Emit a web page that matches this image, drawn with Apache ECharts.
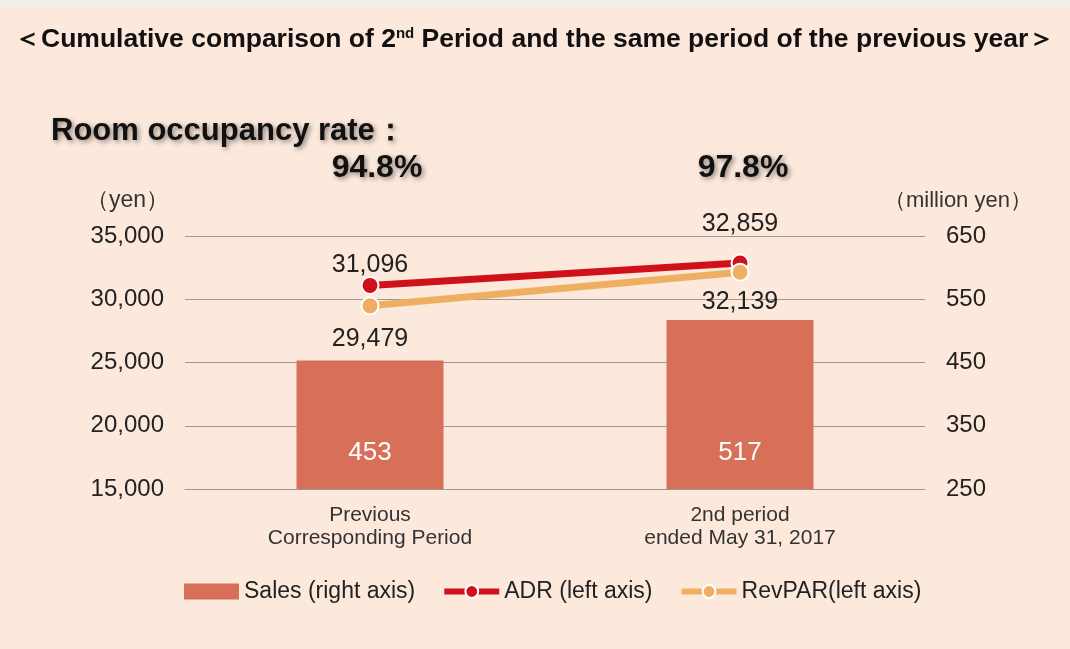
<!DOCTYPE html>
<html>
<head>
<meta charset="utf-8">
<script src="https://cdn.jsdelivr.net/npm/echarts@6/dist/echarts.min.js"></script>
<style>
  html, body { margin: 0; padding: 0; background: #fde9dc; }
  #main { width: 1070px; height: 649px; }
</style>
</head>
<body>
<div id="main"></div>
<script>
// categories and values
const periods = ['Previous\nCorresponding Period', '2nd period\nended May 31, 2017']
const occupancy = ['94.8%', '97.8%']
const sales = [453, 517]
const adr = [31096, 32859]
const revpar = [29479, 32139]

const font = 'Arial, Liberation Sans, sans-serif'
const textColor = '#222'

let myChart = echarts.init(document.getElementById('main'))

// shadowed headline texts
const shadow = {
  textShadowColor: 'rgba(0,0,0,0.45)',
  textShadowBlur: 5,
  textShadowOffsetX: 2,
  textShadowOffsetY: 2
}

myChart.setOption({
  backgroundColor: '#fde9dc',
  textStyle: { fontFamily: font },
  title: [
    {
      text: '{t|＜Cumulative comparison of 2}{s|nd}{t| Period and the same period of the previous year＞}',
      left: 9,
      top: 21,
      textStyle: {
        rich: {
          t: { fontFamily: font, fontWeight: 'bold', fontSize: 26.5, color: '#111' },
          s: { fontFamily: font, fontWeight: 'bold', fontSize: 15, color: '#111', verticalAlign: 'top', padding: [0, 0, 12, 0] }
        }
      }
    },
    {
      text: 'Room occupancy rate：',
      left: 46,
      top: 111,
      textStyle: Object.assign({ fontFamily: font, fontWeight: 'bold', fontSize: 31, color: '#111' }, shadow)
    },
    {
      text: occupancy[0],
      left: 372,
      top: 147,
      textAlign: 'center',
      textStyle: Object.assign({ fontFamily: font, fontWeight: 'bold', fontSize: 32, color: '#111' }, shadow)
    },
    {
      text: occupancy[1],
      left: 738,
      top: 147,
      textAlign: 'center',
      textStyle: Object.assign({ fontFamily: font, fontWeight: 'bold', fontSize: 32, color: '#111' }, shadow)
    }
  ],
  graphic: [
    // pale strip along the top edge
    { type: 'rect', left: 0, top: 0, shape: { width: 1070, height: 7 }, style: { fill: '#f1efec' } }
  ],
  legend: {
    left: 179,
    top: 575,
    itemWidth: 55,
    itemHeight: 16,
    itemGap: 26,
    lineStyle: { width: 6 },
    textStyle: { fontFamily: font, fontSize: 23, color: textColor },
    data: [
      { name: 'Sales (right axis)', icon: 'rect' },
      'ADR (left axis)',
      'RevPAR(left axis)'
    ]
  },
  grid: {
    left: 185,
    right: 145,
    top: 236,
    bottom: 160
  },
  xAxis: {
    type: 'category',
    data: periods,
    axisLine: { lineStyle: { color: '#9a9a9a' } },
    axisTick: { show: false },
    axisLabel: {
      margin: 15,
      fontSize: 21,
      lineHeight: 23,
      color: '#333',
      fontFamily: font
    }
  },
  yAxis: [
    {
      type: 'value',
      min: 15000,
      max: 35000,
      interval: 5000,
      name: '（yen）',
      nameLocation: 'end',
      nameGap: 24,
      nameTextStyle: { fontSize: 23, color: '#333', align: 'right', padding: [0, 16, 0, 0], fontFamily: font },
      axisLine: { show: false },
      axisTick: { show: false },
      axisLabel: {
        margin: 21,
        fontSize: 24,
        color: textColor,
        fontFamily: font,
        formatter: (v) => v.toLocaleString('en-US')
      },
      splitLine: { lineStyle: { color: '#9a9a9a', width: 1 } }
    },
    {
      type: 'value',
      min: 250,
      max: 650,
      interval: 100,
      name: '（million yen）',
      nameLocation: 'end',
      nameGap: 24,
      nameTextStyle: { fontSize: 22, color: '#333', align: 'left', padding: [0, 0, 0, -41], fontFamily: font },
      axisLine: { show: false },
      axisTick: { show: false },
      axisLabel: { margin: 21, fontSize: 24, color: textColor, fontFamily: font },
      splitLine: { show: false }
    }
  ],
  series: [
    {
      name: 'Sales (right axis)',
      type: 'bar',
      yAxisIndex: 1,
      barWidth: 147,
      data: sales,
      itemStyle: { color: '#d86f58' },
      label: {
        show: true,
        position: 'insideBottom',
        distance: 23,
        fontSize: 26,
        color: '#fff',
        fontFamily: font
      }
    },
    {
      name: 'ADR (left axis)',
      type: 'line',
      yAxisIndex: 0,
      data: adr.map((v, i) => ({
        value: v,
        label: { distance: i === 0 ? -2 : 17 }
      })),
      lineStyle: { color: '#d0111c', width: 7 },
      itemStyle: { color: '#d0111c', borderColor: '#fff', borderWidth: 2 },
      symbol: 'circle',
      symbolSize: 17,
      z: 4,
      label: {
        show: true,
        position: 'top',
        fontSize: 25,
        color: textColor,
        fontFamily: font,
        formatter: (p) => p.value.toLocaleString('en-US')
      }
    },
    {
      name: 'RevPAR(left axis)',
      type: 'line',
      yAxisIndex: 0,
      data: revpar.map((v, i) => ({
        value: v,
        label: { distance: i === 0 ? 11 : 8 }
      })),
      lineStyle: { color: '#eeaf62', width: 7 },
      itemStyle: { color: '#eeaf62', borderColor: '#fff', borderWidth: 2 },
      symbol: 'circle',
      symbolSize: 17,
      z: 5,
      label: {
        show: true,
        position: 'bottom',
        fontSize: 25,
        color: textColor,
        fontFamily: font,
        formatter: (p) => p.value.toLocaleString('en-US')
      }
    }
  ]
})
</script>
</body>
</html>
